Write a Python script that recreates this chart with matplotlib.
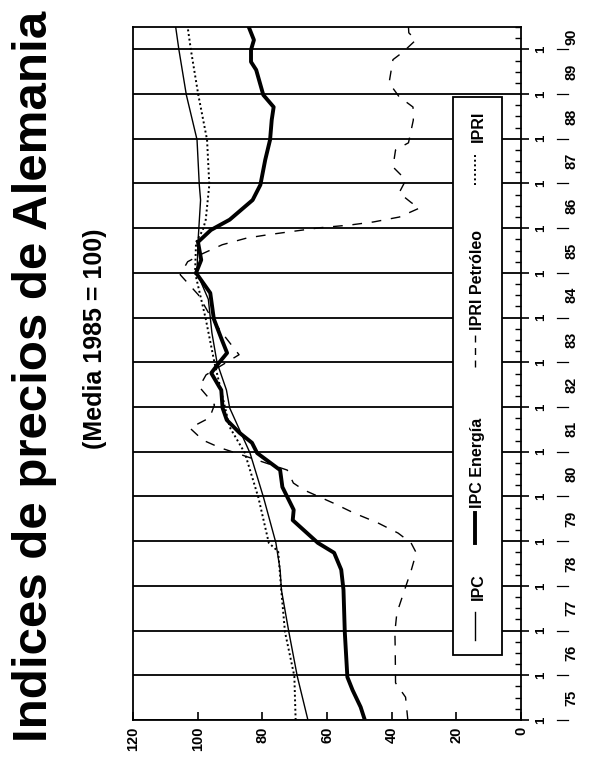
import matplotlib
matplotlib.use('Agg')
import matplotlib.pyplot as plt
from matplotlib import rc
from matplotlib.ticker import MultipleLocator
from matplotlib.transforms import blended_transform_factory
from matplotlib.patches import Rectangle
from matplotlib.lines import Line2D

rc('font', family='Liberation Sans')

# decimal year, index value (media 1985 = 100)
t_ipc = [1975.0, 1975.98, 1976.97, 1977.91, 1978.36, 1978.96, 1979.97, 1980.97, 1981.98,
		 1982.38, 1982.99, 1983.66, 1984.41, 1985.0, 1985.69, 1986.63, 1986.97, 1987.98,
		 1988.98, 1989.99, 1990.5]
ipc = [65.9, 69.2, 71.8, 74.1, 74.5, 75.8, 79.6, 83.8, 90.1,
	   91.1, 94.0, 95.6, 96.7, 100.2, 99.9, 99.1, 99.5, 100.2,
	   103.5, 105.8, 106.8]

t_energia = [1975.0, 1975.29, 1975.67, 1975.96, 1976.97, 1977.91, 1978.36, 1978.74, 1978.96,
			 1979.47, 1979.70, 1980.21, 1980.59, 1980.97, 1981.20, 1981.42, 1981.71, 1981.98,
			 1982.38, 1982.45, 1982.76, 1982.99, 1983.21, 1983.50, 1983.97, 1984.55, 1985.0,
			 1985.29, 1985.69, 1985.96, 1986.19, 1986.63, 1986.97, 1987.53, 1987.98, 1988.42,
			 1988.71, 1988.98, 1989.54, 1989.72, 1989.99, 1990.21, 1990.5]
energia = [48.3, 49.6, 52.1, 53.7, 54.5, 54.9, 55.6, 57.8, 62.8,
		   70.6, 70.3, 73.8, 74.5, 81.6, 83.2, 87.0, 91.0, 92.3,
		   92.7, 93.3, 95.8, 93.4, 90.9, 92.5, 95.0, 96.1, 100.5,
		   98.9, 99.9, 95.9, 90.1, 83.0, 80.6, 79.1, 77.6, 77.1,
		   76.5, 79.7, 81.9, 83.5, 83.5, 82.6, 84.2]

t_petroleo = [1975.0, 1975.51, 1975.83, 1976.57, 1976.97, 1977.39, 1977.91, 1978.36, 1978.74,
			  1978.96, 1979.18, 1979.41, 1979.63, 1979.85, 1980.15, 1980.30, 1980.59, 1981.09,
			  1981.26, 1981.53, 1981.76, 1982.05, 1982.45, 1982.72, 1983.17, 1983.55, 1983.95,
			  1984.51, 1984.96, 1985.25, 1985.43, 1985.63, 1985.78, 1985.85, 1985.92, 1986.01,
			  1986.07, 1986.14, 1986.25, 1986.45, 1986.57, 1986.79, 1987.08, 1987.37, 1987.75,
			  1987.91, 1988.42, 1988.71, 1988.94, 1989.25, 1989.77, 1989.94, 1990.21, 1990.37,
			  1990.5]
petroleo = [35.0, 35.7, 38.8, 38.9, 39.0, 38.4, 36.0, 33.9, 32.4,
			34.0, 38.0, 44.3, 51.7, 58.0, 67.3, 70.4, 72.3, 93.1,
			98.4, 102.4, 96.3, 94.8, 99.5, 97.4, 87.2, 91.3, 95.4,
			99.8, 105.4, 103.1, 98.5, 92.4, 84.8, 78.6, 71.5, 62.2,
			53.0, 45.6, 37.6, 31.4, 33.9, 37.7, 35.6, 39.6, 38.8,
			34.8, 33.3, 33.4, 37.7, 40.8, 39.6, 36.5, 32.5, 34.7,
			34.8]

t_ipri = [1975.0, 1975.98, 1976.97, 1977.87, 1978.77, 1978.96, 1979.97, 1980.97, 1981.55,
		  1982.99, 1983.97, 1985.0, 1985.69, 1985.96, 1986.19, 1986.97, 1987.98, 1988.98,
		  1989.99, 1990.5]
ipri = [69.7, 70.1, 73.0, 74.1, 75.1, 78.0, 81.2, 85.4, 90.1,
		94.8, 97.5, 100.8, 100.5, 98.4, 97.5, 96.4, 97.1, 99.8,
		102.1, 103.1]

years = list(range(1975, 1991))
year_labels = ['75', '76', '77', '78', '79', '80', '81', '82', '83', '84', '85',
			   '86', '87', '88', '89', '90']
value_ticks = [0, 20, 40, 60, 80, 100, 120]
legend_names = ['IPC', 'IPC Energía', 'IPRI Petróleo', 'IPRI']

DASH = (0, (7, 7))
DOT = (0, (1, 1.4))


def plot():
	fig = plt.figure(figsize=(5.93, 7.68), dpi=100)
	ax = fig.add_axes([133/593., 48/768., 388/593., 693/768.])

	# the whole chart is turned on its side: value runs right->left, time bottom->top
	ax.plot(ipc, t_ipc, color='k', lw=1.0)
	ax.plot(energia, t_energia, color='k', lw=2.8)
	ax.plot(petroleo, t_petroleo, color='k', lw=1.0, linestyle=DASH)
	ax.plot(ipri, t_ipri, color='k', lw=1.4, linestyle=DOT)

	ax.set_xlim(120, 0)
	ax.set_ylim(1975, 1990.5)
	ax.set_xticks(value_ticks)
	ax.set_xticklabels([str(v) for v in value_ticks], rotation=90, fontweight='bold')
	ax.tick_params(axis='x', direction='in', length=6, width=1.2, labelsize=10.5, pad=5)

	ax.yaxis.tick_right()
	ax.set_yticks(years)
	ax.set_yticklabels(['1']*len(years), rotation=90, va='center', fontweight='bold')
	ax.yaxis.set_minor_locator(MultipleLocator(0.25))
	ax.tick_params(axis='y', which='major', direction='out', length=6, width=1.2,
				   labelsize=9.5, pad=4)
	ax.tick_params(axis='y', which='minor', direction='in', length=4, width=1.0)
	ax.grid(axis='y', which='major', color='k', lw=1.3)
	for sp in ax.spines.values():
		sp.set_linewidth(1.3)

	# second row of the time axis: year labels between separators
	trans = blended_transform_factory(ax.transAxes, ax.transData)
	for y, lab in zip(years, year_labels):
		ax.text(1.129, y + 0.5 if y < 1990 else y + 0.27, lab, transform=trans, rotation=90,
				ha='center', va='center', fontsize=10.5, fontweight='bold', clip_on=False)
		ax.plot([1.093, 1.122], [y, y], transform=trans, color='k', lw=0.9, clip_on=False)

	# legend box, drawn by hand since the entries are rotated
	ax.add_patch(Rectangle((0.825, 0.094), 0.126, 0.805, transform=ax.transAxes,
						   facecolor='white', edgecolor='k', lw=1.3, zorder=3))
	entries = [(1.0, '-', 0.1154, 0.1558, 0.1732),
			   (2.8, '-', 0.2554, 0.2987, 0.3059),
			   (1.0, (0, (5, 4)), 0.5094, 0.5584, 0.5628),
			   (1.4, DOT, 0.772, 0.818, 0.834)]
	for (lw, ls, y0, y1, yt), name in zip(entries, legend_names):
		ax.add_line(Line2D([0.8814, 0.8814], [y0, y1], transform=ax.transAxes,
						   color='k', lw=lw, linestyle=ls, zorder=4))
		ax.text(0.889, yt, name, transform=ax.transAxes, rotation=90, ha='center',
				va='bottom', fontsize=11.5, fontweight='bold', zorder=4)

	fig.text(35/593., 1 - 376/768., 'Indices de precios de Alemania', rotation=90,
			 ha='center', va='center', fontsize=35.5, fontweight='bold')
	fig.text(95/593., 1 - 339/768., '(Media 1985 = 100)', rotation=90,
			 ha='center', va='center', fontsize=18, fontweight='bold')

	fig.savefig('out.png', dpi=100)


if __name__ == "__main__":
	plot()
